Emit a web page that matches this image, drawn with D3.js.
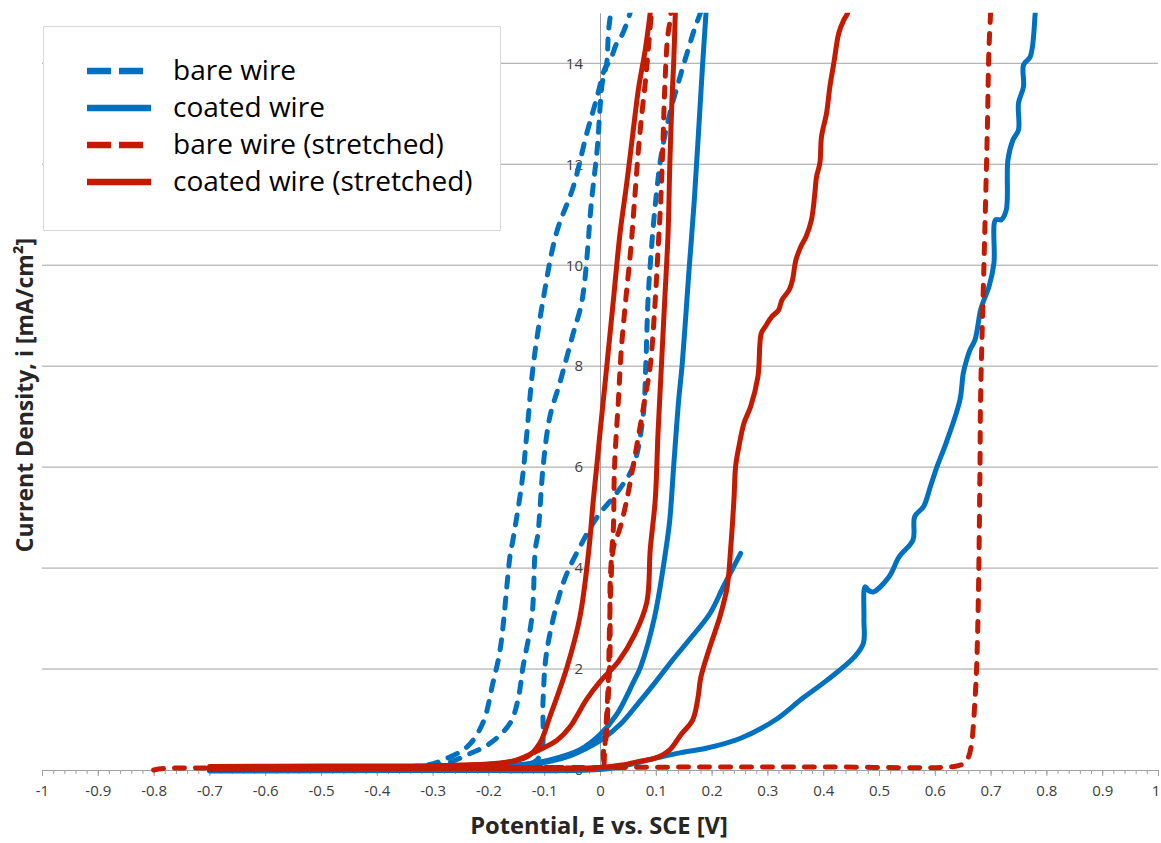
<!DOCTYPE html>
<html>
<head>
<meta charset="utf-8">
<script src="https://d3js.org/d3.v7.min.js"></script>
<style>
body { margin: 0; background: #fff; }
text { font-family: "Open Sans", "Noto Sans", sans-serif; }
</style>
</head>
<body>
<div id="chart"></div>
<script>
// Data: [potential E (V), current density i (mA/cm2)]
var bareWireA = [[-0.42,0.02],[-0.36,0.05],[-0.31,0.1],[-0.281,0.2],[-0.238,0.46],[-0.21,0.93],[-0.192,1.72],[-0.179,2.38],[-0.161,4.26],[-0.156,4.56],[-0.14,5.69],[-0.131,6.68],[-0.12,7.98],[-0.102,9.31],[-0.078,10.64],[-0.048,11.55],[-0.024,12.6],[-0.006,13.3],[0.009,13.9],[0.018,14.05],[0.03,14.4],[0.039,14.55],[0.054,15],[0.06,15.3]];
var bareWireB = [[-0.38,0.02],[-0.33,0.06],[-0.274,0.14],[-0.238,0.3],[-0.197,0.53],[-0.161,0.93],[-0.147,1.39],[-0.138,2.04],[-0.122,3.03],[-0.116,4.36],[-0.111,4.7],[-0.102,6.0],[-0.09,6.99],[-0.072,7.67],[-0.048,8.65],[-0.032,9.31],[-0.015,11.29],[-0.005,12.3],[0,13.1],[0.004,13.6],[0.012,14.0],[0.015,14.6],[0.019,15],[0.021,15.3]];
var bareWireC = [[-0.35,0.02],[-0.25,0.04],[-0.16,0.07],[-0.125,0.12],[-0.113,0.2],[-0.104,0.4],[-0.102,1.39],[-0.095,2.38],[-0.066,3.7],[-0.036,4.42],[-0.005,5.01],[0.03,5.49],[0.059,6.0],[0.077,6.99],[0.082,8.0],[0.086,9.3],[0.092,10.3],[0.1,11.3],[0.11,12.2],[0.125,13.0],[0.14,13.6],[0.156,14.2],[0.17,14.7],[0.18,15],[0.185,15.2]];

var coatedWireA = [[-0.7,0.0],[-0.5,0.01],[-0.3,0.04],[-0.149,0.1],[-0.09,0.2],[-0.036,0.4],[0,0.7],[0.03,1.1],[0.059,1.72],[0.073,2.05],[0.098,3.04],[0.118,4.36],[0.125,4.95],[0.132,6.01],[0.141,7.33],[0.147,8.0],[0.16,9.97],[0.169,11.29],[0.184,14.0],[0.19,15],[0.192,15.3]];
var coatedWireB = [[-0.7,0.0],[-0.4,0.02],[-0.2,0.06],[-0.1,0.15],[-0.054,0.28],[0,0.58],[0.036,0.9],[0.067,1.3],[0.098,1.72],[0.128,2.15],[0.16,2.58],[0.197,3.1],[0.221,3.63],[0.252,4.29]];
var coatedWireC = [[-0.7,-0.02],[-0.3,-0.01],[0,0.01],[0.036,0.07],[0.098,0.23],[0.143,0.34],[0.19,0.43],[0.252,0.63],[0.314,0.99],[0.363,1.42],[0.407,1.78],[0.456,2.24],[0.472,2.51],[0.473,3.0],[0.475,3.63],[0.482,3.55],[0.49,3.53],[0.518,3.83],[0.536,4.22],[0.561,4.56],[0.564,5.02],[0.58,5.22],[0.592,5.61],[0.604,6.01],[0.62,6.47],[0.645,7.33],[0.651,7.86],[0.657,8.12],[0.663,8.32],[0.672,8.52],[0.682,9.11],[0.688,9.31],[0.697,9.57],[0.706,10.04],[0.709,10.9],[0.719,10.9],[0.728,11.09],[0.731,12.08],[0.74,12.48],[0.75,12.68],[0.75,13.21],[0.759,13.54],[0.759,13.97],[0.771,14.13],[0.78,15],[0.782,15.3]];

var bareStretchedA = [[-0.7,0.02],[-0.4,0.03],[-0.1,0.05],[0,0.05],[0.006,0.1],[0.006,0.34],[0.012,0.73],[0.014,1.25],[0.018,2.32],[0.018,3.63],[0.021,4.3],[0.024,4.8],[0.026,6.0],[0.033,7.33],[0.038,8.3],[0.046,9.3],[0.055,10.3],[0.062,11.3],[0.069,12.3],[0.075,13.0],[0.081,13.6],[0.086,14.2],[0.092,15],[0.096,15.6],[0.124,15.6],[0.127,15],[0.121,14.5],[0.116,13.5],[0.113,12.5],[0.109,11.3],[0.104,10.3],[0.099,9.31],[0.09,8.0],[0.08,7.33],[0.07,6.68],[0.059,6.0],[0.048,5.35],[0.036,4.8],[0.024,4.4],[0.02,3.8],[0.017,2.8],[0.015,1.8],[0.011,0.9],[0.008,0.3],[0.007,0.05]];
var bareStretchedB = [[-0.8,0.0],[-0.78,0.03],[-0.7,0.04],[-0.5,0.05],[-0.2,0.05],[0,0.05],[0.2,0.06],[0.4,0.06],[0.635,0.07],[0.65,0.12],[0.66,0.25],[0.666,0.53],[0.672,1.39],[0.675,2.05],[0.678,3.37],[0.681,6.01],[0.682,7.33],[0.688,9.97],[0.694,12.61],[0.697,14.26],[0.7,15],[0.701,15.3]];

var coatedStretchedA = [[-0.7,0.07],[-0.5,0.08],[-0.358,0.08],[-0.25,0.1],[-0.179,0.14],[-0.131,0.26],[-0.108,0.53],[-0.09,1.05],[-0.059,2.04],[-0.036,3.03],[-0.02,4.36],[-0.012,5.35],[-0.006,6.0],[0,6.68],[0.012,7.98],[0.024,9.31],[0.036,10.64],[0.048,11.63],[0.059,12.62],[0.069,13.5],[0.081,14.26],[0.09,15],[0.093,15.3]];
var coatedStretchedB = [[-0.7,0.04],[-0.4,0.06],[-0.25,0.09],[-0.161,0.16],[-0.12,0.34],[-0.077,0.59],[-0.054,0.85],[-0.024,1.4],[0,1.75],[0.033,2.15],[0.062,2.68],[0.084,3.33],[0.09,4.36],[0.099,5.35],[0.104,6.68],[0.11,7.99],[0.116,9.31],[0.122,10.63],[0.125,11.95],[0.129,13.3],[0.132,14.0],[0.135,15],[0.136,15.3]];
var coatedStretchedC = [[-0.7,0.01],[-0.3,0.03],[0,0.05],[0.04,0.1],[0.07,0.17],[0.1,0.24],[0.125,0.4],[0.145,0.7],[0.166,0.99],[0.175,1.39],[0.181,1.85],[0.197,2.44],[0.215,3.04],[0.228,3.63],[0.234,4.36],[0.24,5.35],[0.243,6.01],[0.249,6.41],[0.258,6.87],[0.27,7.2],[0.283,7.79],[0.289,8.65],[0.296,8.78],[0.308,8.98],[0.32,9.11],[0.326,9.31],[0.339,9.51],[0.345,9.71],[0.351,10.1],[0.36,10.37],[0.369,10.56],[0.379,10.9],[0.385,11.42],[0.388,11.75],[0.394,12.02],[0.397,12.55],[0.406,13.01],[0.412,13.54],[0.419,14.0],[0.428,14.6],[0.437,14.86],[0.444,15],[0.446,15.3]];

var seriesNames = ["bare wire", "coated wire", "bare wire (stretched)", "coated wire (stretched)"];
var seriesCurves = [
    [bareWireA, bareWireB, bareWireC],
    [coatedWireA, coatedWireB, coatedWireC],
    [bareStretchedA, bareStretchedB],
    [coatedStretchedA, coatedStretchedB, coatedStretchedC]
];
var xTicks = d3.range(-10, 11).map(d => d / 10);
var xMinorTicks = d3.range(-50, 51).map(d => d / 50);
var yTicks = [0, 2, 4, 6, 8, 10, 12, 14];

var svgWidth = 1161;
var svgHeight = 843;
var plot = { left: 42, right: 1158, top: 12.8, bottom: 770 };

var colors = ["#0070c0", "#0070c0", "#c31a00", "#c31a00"];
var dashed = [true, false, true, false];

var svg = d3.select("#chart")
    .append("svg")
    .attr("width", svgWidth)
    .attr("height", svgHeight);

var xScale = d3.scaleLinear().domain([-1, 1]).range([plot.left, plot.right]);
var yScale = d3.scaleLinear().domain([0, 15]).range([plot.bottom, plot.top]);

// gridlines
svg.append("g").selectAll("line")
    .data(yTicks.filter(d => d > 0))
    .enter()
    .append("line")
    .attr("x1", plot.left)
    .attr("x2", plot.right)
    .attr("y1", d => yScale(d))
    .attr("y2", d => yScale(d))
    .attr("stroke", "#a0a0a0")
    .attr("stroke-width", 1);

// y axis sits at E = 0
var leftAxis = d3.axisLeft(yScale).tickValues(yTicks).tickSize(0).tickPadding(17);
var yAxisG = svg.append("g")
    .attr("transform", `translate(${xScale(0)}, 0)`)
    .call(leftAxis);
yAxisG.select(".domain").attr("stroke", "#a0a0a0");
yAxisG.selectAll("text")
    .attr("font-size", 15)
    .attr("fill", "#404040")
    .style("font-family", "'Open Sans', sans-serif");

// x axis with minor ticks
var minorAxis = d3.axisBottom(xScale).tickValues(xMinorTicks).tickSize(4).tickFormat("");
var xMinorG = svg.append("g")
    .attr("transform", `translate(0, ${plot.bottom})`)
    .call(minorAxis);
xMinorG.select(".domain").remove();
xMinorG.selectAll("line").attr("stroke", "#a0a0a0");

var bottomAxis = d3.axisBottom(xScale)
    .tickValues(xTicks)
    .tickSize(6)
    .tickSizeOuter(0)
    .tickPadding(9)
    .tickFormat(d => String(+d.toFixed(1)));
var xAxisG = svg.append("g")
    .attr("transform", `translate(0, ${plot.bottom})`)
    .call(bottomAxis);
xAxisG.select(".domain").attr("stroke", "#a0a0a0");
xAxisG.selectAll("line").attr("stroke", "#a0a0a0");
xAxisG.selectAll("text")
    .attr("font-size", 15)
    .attr("fill", "#404040")
    .style("font-family", "'Open Sans', sans-serif");
// keep the last label inside the page
xAxisG.selectAll("text").filter(d => d === 1).attr("dx", -2.5);

// curves
svg.append("clipPath").attr("id", "plotClip")
    .append("rect")
    .attr("x", plot.left)
    .attr("y", plot.top)
    .attr("width", plot.right - plot.left)
    .attr("height", plot.bottom - plot.top + 6);

var line = d3.line()
    .x(d => xScale(d[0]))
    .y(d => yScale(d[1]))
    .curve(d3.curveCatmullRom.alpha(0.5));

var curvesGroup = svg.append("g").attr("clip-path", "url(#plotClip)");
seriesCurves.forEach(function (curves, s) {
    curvesGroup.append("g").selectAll("path")
        .data(curves)
        .enter()
        .append("path")
        .attr("d", line)
        .attr("fill", "none")
        .attr("stroke", colors[s])
        .attr("stroke-width", 5)
        .attr("stroke-linecap", "round")
        .attr("stroke-linejoin", "round")
        .attr("stroke-dasharray", dashed[s] ? "10 11" : null);
});

// legend
var legend = svg.append("g");
legend.append("rect")
    .attr("x", 43.5)
    .attr("y", 26.5)
    .attr("width", 457)
    .attr("height", 204)
    .attr("fill", "#fff")
    .attr("stroke", "#d9d9d9");

var legendRows = legend.selectAll("g.row")
    .data(seriesNames)
    .enter()
    .append("g")
    .attr("class", "row")
    .attr("transform", (d, i) => `translate(0, ${71 + i * 37})`);

legendRows.append("line")
    .attr("x1", 87)
    .attr("x2", 151)
    .attr("stroke", (d, i) => colors[i])
    .attr("stroke-width", 6.5)
    .attr("stroke-dasharray", (d, i) => dashed[i] ? "24 8" : null);

legendRows.append("text")
    .attr("x", 173)
    .attr("y", 9)
    .attr("font-size", 28)
    .attr("fill", "#000")
    .text(d => d);

// axis titles
svg.append("text")
    .attr("x", 599)
    .attr("y", 834)
    .attr("text-anchor", "middle")
    .attr("font-size", 23.7)
    .attr("font-weight", "bold")
    .attr("fill", "#262626")
    .text("Potential, E vs. SCE [V]");

svg.append("text")
    .attr("transform", "translate(33, 395) rotate(-90)")
    .attr("text-anchor", "middle")
    .attr("font-size", 23)
    .attr("font-weight", "bold")
    .attr("fill", "#262626")
    .text("Current Density, i [mA/cm²]");
</script>
</body>
</html>
